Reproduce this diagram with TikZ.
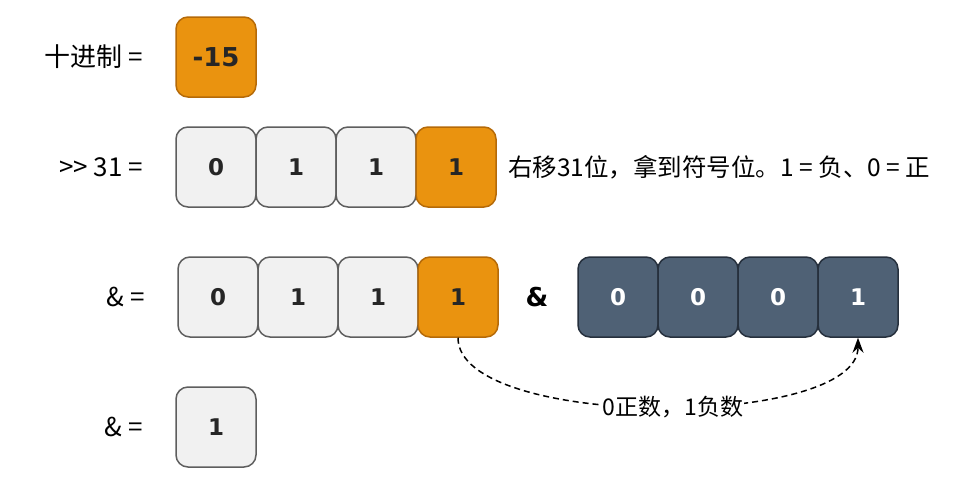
\documentclass[tikz,border=0pt]{standalone}
\usepackage{fontspec}
\usetikzlibrary{arrows.meta}
\setmainfont{Noto Sans CJK SC}
\newfontfamily\bitfont{DejaVu Sans}

\definecolor{signfill}{HTML}{EA930F}
\definecolor{signline}{HTML}{B56A08}
\definecolor{bitfill}{HTML}{F1F1F1}
\definecolor{bitline}{HTML}{5E5E5E}
\definecolor{maskfill}{HTML}{4F6175}
\definecolor{maskline}{HTML}{26303D}

\tikzset{
    cell/.style={rectangle, rounded corners=12pt, line width=1.5pt,
        minimum size=80pt, inner sep=0pt,
        font=\bitfont\bfseries\fontsize{23}{27}\selectfont},
    bitbox/.style={cell, fill=bitfill, draw=bitline, text=black!85},
    signbox/.style={cell, fill=signfill, draw=signline, text=black!85},
    maskbox/.style={cell, fill=maskfill, draw=maskline, text=white},
    rowlabel/.style={anchor=east, inner sep=0pt, font=\fontsize{26}{30}\selectfont},
    note/.style={font=\fontsize{24.5}{28}\selectfont},
}

\begin{document}
\begin{tikzpicture}[x=1pt, y=-1pt]
    \useasboundingbox (0,0) rectangle (968,488);

    % decimal value
    \node[rowlabel] (ldec) at (143,57) {十进制\ =};
    \node[signbox, font=\bitfont\bfseries\fontsize{26}{30}\selectfont] (dec) at (216,57) {-15};

    % shift right by 31
    \node[rowlabel] (lshift) at (143,167) {>{}>\ 31\ =};
    \node[bitbox] (s1) at (216,167) {0};
    \node[bitbox] (s2) at (296,167) {1};
    \node[bitbox] (s3) at (376,167) {1};
    \node[signbox] (s4) at (456,167) {1};
    \node[note, anchor=west, inner sep=0pt] (tshift) at (508,167) {右移31位，拿到符号位。1 = 负、0 = 正};

    % and with 1
    \node[rowlabel] (land) at (145,297) {\&\ =};
    \node[bitbox] (a1) at (218,297) {0};
    \node[bitbox] (a2) at (298,297) {1};
    \node[bitbox] (a3) at (378,297) {1};
    \node[signbox] (a4) at (458,297) {1};
    \node[font=\bitfont\bfseries\fontsize{26}{30}\selectfont] (op) at (537,297) {\&};
    \node[maskbox] (m1) at (618,297) {0};
    \node[maskbox] (m2) at (698,297) {0};
    \node[maskbox] (m3) at (778,297) {0};
    \node[maskbox] (m4) at (858,297) {1};

    % result
    \node[rowlabel] (lres) at (143,427) {\&\ =};
    \node[bitbox] (res) at (216,427) {1};

    \draw[line width=1.5pt, dash pattern=on 6pt off 4pt,
          -{Stealth[length=15pt, width=11pt]}]
        (a4.south) .. controls +(0,92) and +(0,92) .. (m4.south)
        node[pos=0.525, font=\fontsize{23}{27}\selectfont, fill=white, inner sep=1pt] (tsign) {0正数，1负数};
\end{tikzpicture}
\end{document}
